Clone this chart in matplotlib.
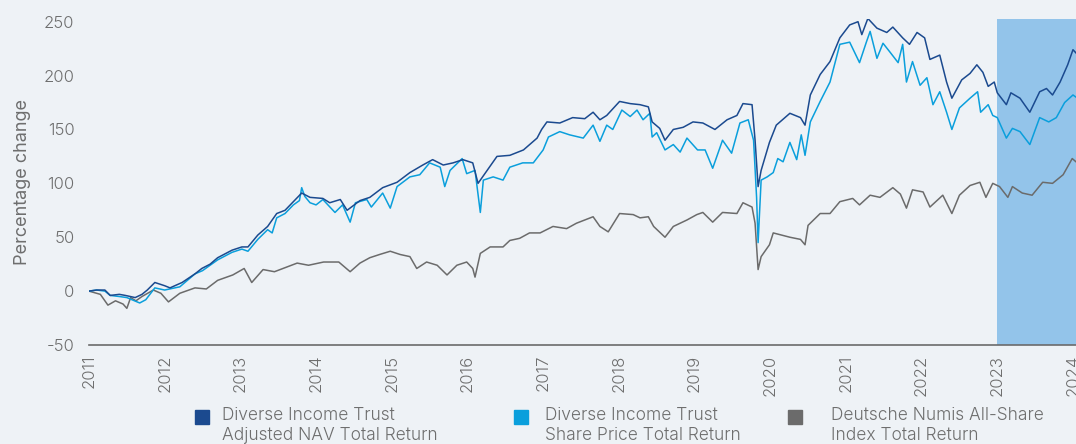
import matplotlib.pyplot as plt
from matplotlib.patches import Rectangle

# values (decimal year, % change)
nav_t = [2011.00, 2011.10, 2011.21, 2011.28, 2011.40, 2011.48, 2011.61, 2011.70, 2011.77, 2011.87,
         2012.00, 2012.07, 2012.23, 2012.40, 2012.49, 2012.60, 2012.70, 2012.89, 2013.02, 2013.10,
         2013.23, 2013.36, 2013.48, 2013.59, 2013.70, 2013.81, 2013.92, 2014.09, 2014.18, 2014.32,
         2014.41, 2014.58, 2014.71, 2014.88, 2015.07, 2015.24, 2015.41, 2015.54, 2015.68, 2015.81,
         2015.94, 2016.07, 2016.14, 2016.26, 2016.39, 2016.56, 2016.74, 2016.92, 2016.98, 2017.05,
         2017.22, 2017.39, 2017.55, 2017.66, 2017.75, 2017.84, 2018.01, 2018.15, 2018.28, 2018.39,
         2018.44, 2018.54, 2018.61, 2018.72, 2018.85, 2018.98, 2019.11, 2019.27, 2019.43, 2019.56,
         2019.64, 2019.76, 2019.80, 2019.84, 2019.88, 2019.99, 2020.08, 2020.26, 2020.40, 2020.46,
         2020.53, 2020.66, 2020.79, 2020.92, 2021.05, 2021.16, 2021.21, 2021.29, 2021.41, 2021.54,
         2021.62, 2021.75, 2021.84, 2021.94, 2022.04, 2022.11, 2022.24, 2022.33, 2022.40, 2022.53,
         2022.64, 2022.73, 2022.81, 2022.88, 2022.96, 2023.00, 2023.12, 2023.18, 2023.30, 2023.43,
         2023.56, 2023.65, 2023.73, 2023.83, 2023.93, 2024.00, 2024.04]
nav_v = [0, 1, 1, -4, -3, -4, -6, -3, 1, 8,
         5, 3, 8, 16, 21, 25, 31, 38, 41, 41,
         52, 60, 72, 75, 83, 91, 87, 86, 82, 85,
         75, 84, 87, 96, 101, 110, 117, 122, 117, 119,
         122, 119, 100, 112, 125, 126, 131, 142, 150, 157,
         156, 161, 160, 166, 159, 163, 176, 174, 173, 171,
         157, 151, 140, 150, 152, 157, 156, 150, 159, 163,
         174, 173, 140, 97, 112, 138, 154, 165, 161, 154,
         182, 201, 213, 235, 247, 250, 238, 253, 244, 240,
         245, 235, 229, 240, 235, 215, 219, 194, 179, 196,
         202, 210, 203, 190, 194, 184, 173, 184, 179, 166,
         185, 188, 182, 194, 210, 224, 221]

price_t = [2011.00, 2011.10, 2011.21, 2011.28, 2011.40, 2011.50, 2011.60, 2011.67, 2011.75, 2011.87,
           2012.00, 2012.20, 2012.40, 2012.50, 2012.60, 2012.70, 2012.89, 2013.02, 2013.10, 2013.23,
           2013.36, 2013.42, 2013.48, 2013.59, 2013.70, 2013.78, 2013.81, 2013.85, 2013.92, 2014.00,
           2014.09, 2014.25, 2014.35, 2014.45, 2014.52, 2014.67, 2014.73, 2014.88, 2014.98, 2015.07,
           2015.24, 2015.37, 2015.50, 2015.64, 2015.70, 2015.77, 2015.93, 2015.99, 2016.10, 2016.17,
           2016.21, 2016.34, 2016.47, 2016.56, 2016.73, 2016.87, 2017.00, 2017.07, 2017.22, 2017.35,
           2017.53, 2017.66, 2017.75, 2017.84, 2017.92, 2018.04, 2018.15, 2018.24, 2018.32, 2018.41,
           2018.44, 2018.50, 2018.61, 2018.72, 2018.81, 2018.90, 2019.04, 2019.14, 2019.24, 2019.37,
           2019.49, 2019.60, 2019.71, 2019.78, 2019.82, 2019.84, 2019.88, 2019.96, 2020.04, 2020.10,
           2020.17, 2020.26, 2020.35, 2020.41, 2020.46, 2020.53, 2020.66, 2020.79, 2020.92, 2021.05,
           2021.18, 2021.27, 2021.32, 2021.41, 2021.49, 2021.58, 2021.69, 2021.75, 2021.80, 2021.88,
           2021.98, 2022.07, 2022.15, 2022.24, 2022.33, 2022.40, 2022.50, 2022.64, 2022.74, 2022.78,
           2022.88, 2022.94, 2023.00, 2023.12, 2023.20, 2023.30, 2023.43, 2023.56, 2023.68, 2023.78,
           2023.89, 2024.00, 2024.04]
price_v = [0, 1, 0, -4, -5, -6, -9, -11, -8, 3,
           1, 4, 16, 19, 24, 29, 36, 39, 37, 48,
           57, 54, 68, 72, 80, 84, 96, 88, 82, 80,
           85, 73, 80, 64, 82, 85, 78, 91, 77, 97,
           106, 108, 119, 115, 97, 112, 123, 109, 112, 73,
           103, 106, 103, 115, 119, 119, 131, 143, 148, 145,
           142, 154, 139, 154, 150, 168, 162, 168, 159, 165,
           143, 147, 131, 136, 129, 142, 131, 131, 114, 140,
           128, 156, 159, 140, 87, 45, 103, 106, 110, 123,
           120, 138, 122, 145, 126, 157, 176, 194, 229, 231,
           212, 231, 241, 216, 230, 222, 212, 229, 194, 213,
           191, 198, 173, 185, 166, 150, 170, 179, 185, 166,
           173, 163, 161, 142, 151, 148, 136, 161, 157, 161,
           175, 182, 180]

index_t = [2011.00, 2011.15, 2011.25, 2011.35, 2011.45, 2011.50, 2011.55, 2011.62, 2011.70, 2011.85,
           2011.95, 2012.05, 2012.20, 2012.40, 2012.55, 2012.70, 2012.90, 2013.05, 2013.15, 2013.30,
           2013.45, 2013.60, 2013.75, 2013.90, 2014.10, 2014.30, 2014.45, 2014.58, 2014.71, 2014.84,
           2014.98, 2015.11, 2015.24, 2015.33, 2015.46, 2015.60, 2015.73, 2015.86, 2015.99, 2016.07,
           2016.10, 2016.17, 2016.30, 2016.47, 2016.56, 2016.69, 2016.82, 2016.96, 2017.13, 2017.31,
           2017.44, 2017.66, 2017.75, 2017.86, 2018.01, 2018.19, 2018.28, 2018.39, 2018.46, 2018.61,
           2018.72, 2018.90, 2019.03, 2019.11, 2019.24, 2019.37, 2019.56, 2019.64, 2019.76, 2019.80,
           2019.84, 2019.88, 2019.99, 2020.04, 2020.26, 2020.40, 2020.46, 2020.50, 2020.66, 2020.79,
           2020.92, 2021.09, 2021.18, 2021.32, 2021.45, 2021.62, 2021.72, 2021.80, 2021.88, 2022.02,
           2022.11, 2022.28, 2022.40, 2022.50, 2022.64, 2022.77, 2022.85, 2022.94, 2023.03, 2023.14,
           2023.20, 2023.33, 2023.46, 2023.60, 2023.73, 2023.87, 2023.99, 2024.04]
index_v = [0, -3, -13, -9, -12, -16, -6, -9, -5, 1,
           -2, -10, -2, 3, 2, 10, 15, 21, 8, 20,
           18, 22, 26, 24, 27, 27, 18, 26, 31, 34,
           37, 34, 32, 21, 27, 24, 15, 24, 27, 21,
           13, 35, 41, 41, 47, 49, 54, 54, 60, 58,
           63, 69, 60, 55, 72, 71, 68, 69, 60, 50,
           60, 66, 71, 73, 64, 73, 72, 82, 78, 63,
           20, 32, 43, 54, 50, 48, 43, 61, 72, 72,
           83, 86, 80, 89, 87, 96, 90, 77, 94, 92,
           78, 89, 72, 89, 98, 101, 87, 100, 97, 87,
           97, 91, 89, 101, 100, 108, 123, 120]

years = list(range(2011, 2025))
yticks = [-50, 0, 50, 100, 150, 200, 250]
ytick_labels = ["-50", "0", "50", "100", "150", "200", "250"]
labels = [["Diverse Income Trust", "Adjusted NAV Total Return"],
          ["Diverse Income Trust", "Share Price Total Return"],
          ["Deutsche Numis All-Share", "Index Total Return"]]
colors = ["#1b4a8f", "#0a9fdc", "#6b6b6b"]

plt.rcParams['font.family'] = ['Inter', 'DejaVu Sans']
plt.rcParams['font.weight'] = 300
txt = "#6e6e6e"

fig = plt.figure(figsize=(10.76, 4.44), dpi=100, facecolor="#eef2f6")
ax = fig.add_axes([89 / 1076, 99 / 444, 1 - 89 / 1076, 326 / 444])
ax.set_facecolor("none")

ax.axvspan(2023, 2025, color="#93c4ea", lw=0, zorder=0)
ax.plot(index_t, index_v, color=colors[2], lw=1.1, zorder=2)
ax.plot(price_t, price_v, color=colors[1], lw=1.1, zorder=3)
ax.plot(nav_t, nav_v, color=colors[0], lw=1.1, zorder=4)

ax.set_xlim(2011, 2024.04)
ax.set_ylim(-50, 252.5)
ax.set_xticks(years)
ax.set_xticklabels([str(y) for y in years], rotation=90)
ax.set_yticks(yticks)
ax.set_yticklabels(ytick_labels)
ax.tick_params(length=0, labelsize=12, labelcolor=txt)
ax.tick_params(axis='x', pad=7)
ax.tick_params(axis='y', pad=10.5)
for s in ['top', 'right', 'left']:
    ax.spines[s].set_visible(False)
ax.spines['bottom'].set_color("#6b6b6b")
ax.spines['bottom'].set_linewidth(1.2)
ax.set_ylabel("Percentage change", fontsize=13, color=txt, labelpad=9)

# legend along the bottom
sq_x = [195, 514, 788]
tx_x = [222, 545, 831]
for i in range(3):
    fig.patches.append(Rectangle((sq_x[i] / 1076, (444 - 424) / 444), 14 / 1076, 14 / 444,
                                 transform=fig.transFigure, color=colors[i]))
    fig.text(tx_x[i] / 1076, (444 - 415) / 444, labels[i][0], fontsize=12.5, color=txt, va='center')
    fig.text(tx_x[i] / 1076, (444 - 435) / 444, labels[i][1], fontsize=12.5, color=txt, va='center')

fig.savefig("out.png", dpi=100, facecolor=fig.get_facecolor())
